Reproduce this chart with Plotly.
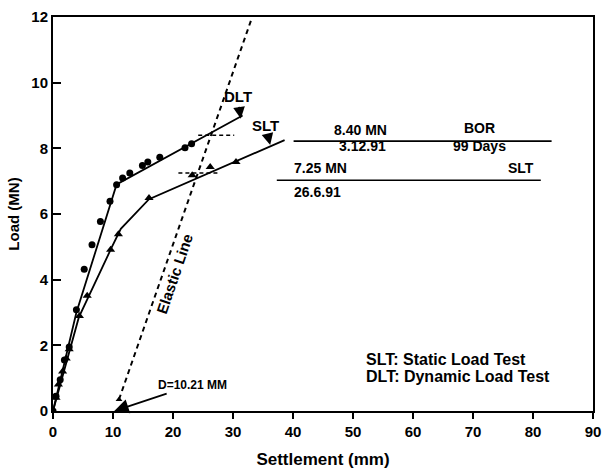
import plotly.graph_objects as go

# Dynamic load test (DLT) measured points
dlt_settlement = [0, 0.5, 1.2, 1.9, 2.7, 3.9, 5.2, 6.5, 7.9, 9.5, 10.6, 11.6, 12.8, 14.9, 15.8, 17.8, 22.0, 23.1]
dlt_load = [0, 0.45, 0.95, 1.55, 1.95, 3.08, 4.32, 5.06, 5.77, 6.39, 6.89, 7.10, 7.25, 7.48, 7.58, 7.73, 8.02, 8.14]

# Static load test (SLT) measured points
slt_settlement = [0, 0.5, 0.9, 1.6, 2.2, 2.7, 4.4, 5.7, 9.6, 10.9, 16.0, 23.2, 26.2, 30.5]
slt_load = [0, 0.40, 0.81, 1.20, 1.60, 1.88, 2.89, 3.51, 4.91, 5.38, 6.49, 7.18, 7.43, 7.58]
slt_residual_settlement = [11.0]
slt_residual_load = [0.35]

# Fitted curves through each test
dlt_fit_settlement = [0, 3.9, 10.6, 31.6]
dlt_fit_load = [0, 3.0, 6.9, 9.0]
slt_fit_settlement = [0, 4.3, 9.7, 11.3, 16.0, 38.6]
slt_fit_load = [0, 2.85, 4.95, 5.55, 6.45, 8.25]

# Elastic compression line (offset D = 10.21 mm)
elastic_settlement = [11.0, 33.2]
elastic_load = [0.35, 12.0]

# Failure loads read at the elastic line
failure_loads = [8.40, 7.25]
failure_marks = [[24.2, 30.2], [20.9, 27.9]]

# Summary table rules
table_rules_settlement = [[40.1, 83.1], [37.3, 81.3]]
table_rules_load = [8.22, 7.03]

FONT = "Arial, Liberation Sans, sans-serif"

fig = go.Figure()

fig.add_trace(go.Scatter(x=dlt_fit_settlement, y=dlt_fit_load, mode="lines",
                         line=dict(color="black", width=1.8), showlegend=False))
fig.add_trace(go.Scatter(x=slt_fit_settlement, y=slt_fit_load, mode="lines",
                         line=dict(color="black", width=1.8), showlegend=False))
fig.add_trace(go.Scatter(x=elastic_settlement, y=elastic_load, mode="lines",
                         line=dict(color="black", width=2, dash="5px,4px"), showlegend=False))
for load, xs in zip(failure_loads, failure_marks):
    fig.add_trace(go.Scatter(x=xs, y=[load, load], mode="lines",
                             line=dict(color="black", width=1.5, dash="4px,3px"), showlegend=False))
for xs, load in zip(table_rules_settlement, table_rules_load):
    fig.add_trace(go.Scatter(x=xs, y=[load, load], mode="lines",
                             line=dict(color="black", width=1.6), showlegend=False))

fig.add_trace(go.Scatter(x=dlt_settlement, y=dlt_load, mode="markers",
                         marker=dict(symbol="circle", size=7, color="black"), showlegend=False))
fig.add_trace(go.Scatter(x=slt_settlement, y=slt_load, mode="markers",
                         marker=dict(symbol="triangle-up", size=8, color="black"), showlegend=False))
fig.add_trace(go.Scatter(x=slt_residual_settlement, y=slt_residual_load, mode="markers",
                         marker=dict(symbol="triangle-up", size=6, color="black"), showlegend=False))

bold = dict(family=FONT, color="black", weight="bold")

def label(text, x, y, size, **kw):
    fig.add_annotation(x=x, y=y, xref="x", yref="y", text=text, showarrow=False,
                       font=dict(size=size, **bold), **kw)

def pointer(text, x, y, ax, ay, size, head=1.3):
    fig.add_annotation(x=x, y=y, ax=ax, ay=ay, xref="x", yref="y", axref="x", ayref="y",
                       text=text, showarrow=True, arrowhead=2, arrowsize=head, arrowwidth=1.8,
                       arrowcolor="black", standoff=0, startstandoff=0,
                       font=dict(size=size, **bold))

pointer("DLT", 31.3, 8.9, 30.75, 9.57, 15)
pointer("SLT", 36.2, 8.1, 35.4, 8.7, 15)
pointer("D=10.21 MM", 10.21, 0.0, 23.2, 0.79, 12, head=1.6)

label("Elastic Line", 20.3, 4.18, 15, textangle=-71)

label("8.40 MN", 51.2, 8.55, 14)
label("BOR", 71.1, 8.61, 14)
label("3.12.91", 51.6, 8.07, 14)
label("99 Days", 71.0, 8.07, 14)
label("7.25 MN", 44.5, 7.41, 14)
label("SLT", 78.0, 7.41, 14)
label("26.6.91", 44.1, 6.67, 14)

label("SLT: Static Load Test", 51.8, 1.58, 16, xanchor="left")
label("DLT: Dynamic Load Test", 51.8, 1.05, 16, xanchor="left")

fig.update_layout(
    width=609, height=474,
    margin=dict(l=53, r=8, t=11, b=61),
    paper_bgcolor="white", plot_bgcolor="white",
    font=dict(family=FONT, color="black"),
    xaxis=dict(range=[0, 90], dtick=10, tick0=0, showgrid=False, zeroline=False,
               showline=True, linecolor="black", linewidth=2, mirror=True,
               ticks="outside", ticklen=6, tickwidth=1.5, tickcolor="black",
               tickfont=dict(size=15, **bold),
               title=dict(text="Settlement (mm)", font=dict(size=17, **bold), standoff=14)),
    yaxis=dict(range=[0, 12], dtick=2, tick0=0, showgrid=False, zeroline=False,
               showline=True, linecolor="black", linewidth=2, mirror=True,
               ticks="inside", ticklen=8, tickwidth=1.5, tickcolor="black",
               tickfont=dict(size=15, **bold),
               title=dict(text="Load (MN)", font=dict(size=15, **bold), standoff=8)),
)

fig.write_html("out.html")
